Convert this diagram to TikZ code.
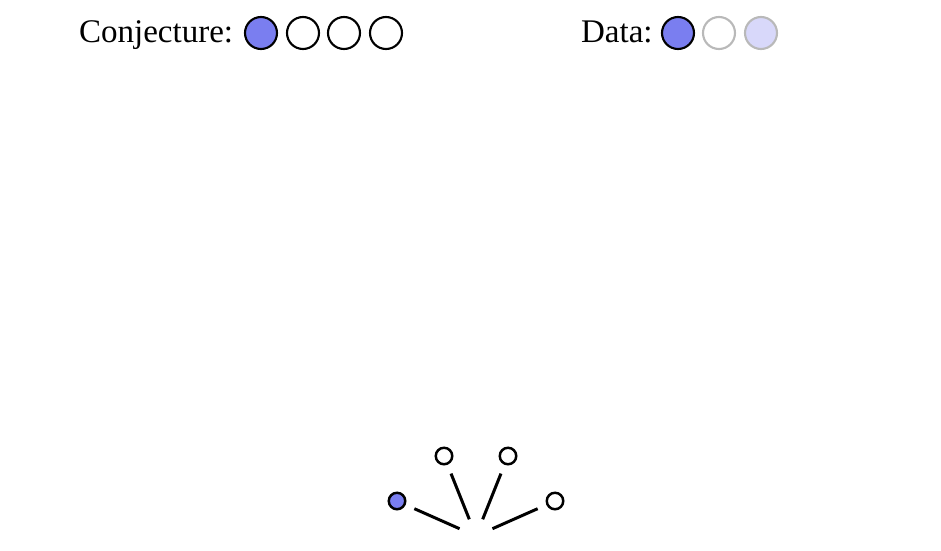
\documentclass[tikz,border=0pt]{standalone}
\usepackage{fontspec}
\setmainfont{Liberation Serif}
\definecolor{dotblue}{RGB}{122,126,240}
\definecolor{paleblue}{RGB}{216,216,250}
\definecolor{rimgray}{RGB}{185,185,185}
\begin{document}
\begin{tikzpicture}[x=0.02cm,y=-0.02cm,every node/.style={draw,circle,line width=1.2pt,minimum size=0.64cm,inner sep=0pt},
  lbl/.style={draw=none,rectangle,anchor=base west,font=\fontsize{18.8}{22}\selectfont},
  pip/.style={minimum size=0.33cm,line width=1.4pt}]
\useasboundingbox (0,0) rectangle (941,551);
\node[lbl] (conj) at (78,42) {Conjecture:};
\node[fill=dotblue] (c1) at (261,33) {};
\node (c2) at (303,33) {};
\node (c3) at (344,33) {};
\node (c4) at (386,33) {};
\node[lbl] (data) at (580,42) {Data:};
\node[fill=dotblue] (d1) at (678,33) {};
\node[draw=rimgray] (d2) at (719,33) {};
\node[draw=rimgray,fill=paleblue] (d3) at (761,33) {};
\coordinate (ctr) at (476,536);
\node[pip,fill=dotblue] (s1) at (397,501) {};
\node[pip] (s2) at (444,456) {};
\node[pip] (s3) at (508,456) {};
\node[pip] (s4) at (555,501) {};
\foreach \v in {s1,s2,s3,s4}
  \draw[line width=1.7pt,shorten <=0.36cm,shorten >=0.19cm] (ctr)--(\v);
\end{tikzpicture}
\end{document}
